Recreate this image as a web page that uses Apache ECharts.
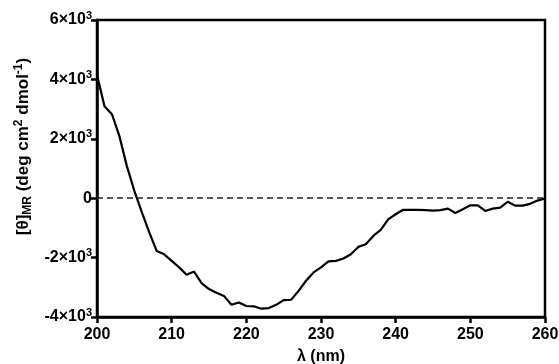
<!DOCTYPE html>
<html>
<head>
<meta charset="utf-8">
<script src="https://cdn.jsdelivr.net/npm/echarts@6/dist/echarts.min.js"></script>
<style>html,body{margin:0;padding:0;background:#fff;}#c{width:559px;height:364px;}</style>
</head>
<body>
<div id="c"></div>
<script>
const wavelengths = [200,201,202,203,204,205,206,207,208,209,210,211,212,213,214,215,216,217,218,219,220,221,222,223,224,225,226,227,228,229,230,231,232,233,234,235,236,237,238,239,240,241,242,243,244,245,246,247,248,249,250,251,252,253,254,255,256,257,258,259,260];
const ellipticity = [4150,3100,2830,2090,1080,250,-470,-1150,-1780,-1890,-2110,-2330,-2580,-2470,-2860,-3060,-3180,-3290,-3590,-3510,-3630,-3640,-3720,-3700,-3590,-3430,-3420,-3120,-2780,-2500,-2330,-2130,-2110,-2030,-1890,-1640,-1550,-1270,-1070,-710,-540,-390,-390,-390,-400,-420,-400,-350,-500,-370,-240,-240,-430,-350,-320,-120,-250,-250,-190,-80,-10];
const xTicks = [200,210,220,230,240,250,260];
const yTicks = [-4000,-2000,0,2000,4000,6000];

const font = 'Liberation Sans, Arial, sans-serif';
const chart = echarts.init(document.getElementById('c'));
chart.setOption({
  animation: false,
  grid: {left: 97, right: 14, top: 20, bottom: 47, show: true, borderColor: '#000', borderWidth: 2.5, outerBoundsMode: 'none', containLabel: false},
  xAxis: {
    type: 'value', min: 200, max: 260, interval: 10,
    axisLine: {show: true, onZero: false, lineStyle: {color: '#000', width: 2.5}},
    axisTick: {show: true, inside: false, length: 6, lineStyle: {color: '#000', width: 2.5}},
    splitLine: {show: false},
    axisLabel: {color: '#000', fontFamily: font, fontWeight: 'bold', fontSize: 16, margin: 10},
    name: 'λ (nm)', nameLocation: 'middle', nameGap: 32,
    nameTextStyle: {color: '#000', fontFamily: font, fontWeight: 'bold', fontSize: 16}
  },
  yAxis: {
    type: 'value', min: -4000, max: 6000, interval: 2000,
    axisLine: {show: true, onZero: false, lineStyle: {color: '#000', width: 2.5}},
    axisTick: {show: true, inside: false, length: 6, lineStyle: {color: '#000', width: 2.5}},
    splitLine: {show: false},
    axisLabel: {
      color: '#000', fontFamily: font, fontWeight: 'bold', fontSize: 16, margin: 5,
      formatter: v => v === 0 ? '0' : (v/1000) + '×10{sup|3}',
      rich: {sup: {fontSize: 11, fontWeight: 'bold', fontFamily: font, color: '#000', padding: [0,0,9,0]}}
    },
    name: '[θ]{sub|MR} (deg cm{sup|2} dmol{sup|-1})', nameLocation: 'middle', nameGap: 59, nameRotate: 90,
    nameTextStyle: {
      color: '#000', fontFamily: font, fontWeight: 'bold', fontSize: 17,
      padding: [0, 0, 0, 44],
      rich: {
        sub: {fontSize: 12, fontWeight: 'bold', fontFamily: font, color: '#000', padding: [9,0,0,0]},
        sup: {fontSize: 12, fontWeight: 'bold', fontFamily: font, color: '#000', padding: [0,0,9,0]}
      }
    }
  },
  series: [{
    type: 'line',
    data: wavelengths.map((w, i) => [w, ellipticity[i]]),
    showSymbol: false, symbol: 'none',
    lineStyle: {color: '#000', width: 2.2},
    markLine: {
      silent: true, symbol: 'none', label: {show: false},
      lineStyle: {color: '#222', width: 1.5, type: [6, 4]},
      data: [{yAxis: 0}]
    }
  }]
});
</script>
</body>
</html>
